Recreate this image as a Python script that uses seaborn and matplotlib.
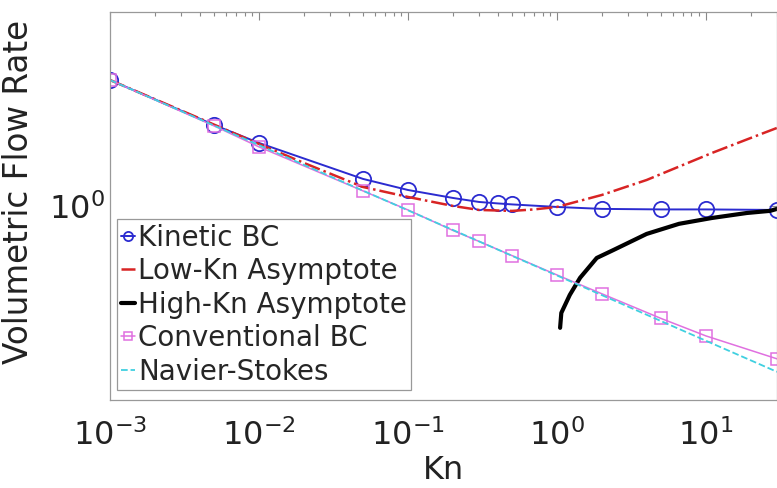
import numpy as np
import pandas as pd
import matplotlib
matplotlib.use("Agg")
import matplotlib.pyplot as plt
import matplotlib.ticker as mticker
import seaborn as sns

# values (log-log axes)
kn_kinetic = [1e-3, 5e-3, 1e-2, 5e-2, 0.1, 0.2, 0.3, 0.4, 0.5, 1, 2, 5, 10, 30]
q_kinetic = [2.065, 1.594, 1.437, 1.168, 1.096, 1.047, 1.023, 1.0145, 1.0087, 0.994, 0.983, 0.980, 0.980, 0.977]

kn_lowkn = [1e-3, 3e-3, 1e-2, 2e-2, 5e-2, 0.1, 0.2, 0.3, 0.5, 0.7, 1, 2, 4, 11, 20, 30]
q_lowkn = [2.065, 1.733, 1.429, 1.281, 1.115, 1.053, 1.0, 0.977, 0.9716, 0.980, 0.994, 1.065, 1.161, 1.357, 1.479, 1.567]

kn_highkn = [1.05, 1.07, 1.22, 1.43, 1.85, 2.4, 4.0, 6.6, 11, 18.8, 27, 30]
q_highkn = [0.4955, 0.540, 0.599, 0.661, 0.741, 0.776, 0.851, 0.902, 0.933, 0.960, 0.972, 0.983]

kn_conv = [1e-3, 5e-3, 1e-2, 5e-2, 0.1, 0.2, 0.3, 0.5, 1, 2, 5, 10, 30]
q_conv = [2.065, 1.585, 1.405, 1.090, 0.977, 0.8685, 0.815, 0.751, 0.672, 0.603, 0.523, 0.473, 0.4145]

kn_ns = [1e-3, 1e-2, 0.1, 1, 10, 30]
q_ns = [2.065, 1.419, 0.975, 0.670, 0.460, 0.3846]

sns.set_style("white")
plt.rcParams['font.family'] = ['DejaVu Sans']

fig = plt.figure(figsize=(7.77, 4.88), dpi=100)
ax = fig.add_axes([110/777, 1 - 400/488, 1 - 110/777, 388/488])

sns.lineplot(x=kn_kinetic, y=q_kinetic, ax=ax, color='#2b2bd0', lw=1.4,
             marker='o', markersize=11, markerfacecolor='none',
             markeredgecolor='#2b2bd0', markeredgewidth=1.3, label='Kinetic BC')
sns.lineplot(x=kn_lowkn, y=q_lowkn, ax=ax, color='#d82424', lw=1.8,
             linestyle='-.', label='Low-Kn Asymptote')
sns.lineplot(x=kn_highkn, y=q_highkn, ax=ax, color='black', lw=3,
             label='High-Kn Asymptote')
sns.lineplot(x=kn_conv, y=q_conv, ax=ax, color='#e070e0', lw=1.1,
             marker='s', markersize=9, markerfacecolor='none',
             markeredgecolor='#e070e0', markeredgewidth=1.1, label='Conventional BC')
sns.lineplot(x=kn_ns, y=q_ns, ax=ax, color='#40d0e0', lw=1.3,
             linestyle='--', label='Navier-Stokes')

ax.set_xscale('log')
ax.set_yscale('log')
ax.set_xlim(1e-3, 30)
ax.set_ylim(0.327, 3.055)
ax.set_yticks([1])
ax.yaxis.set_minor_locator(mticker.NullLocator())
ax.xaxis.set_major_locator(mticker.LogLocator(base=10, numticks=10))
ax.xaxis.set_minor_locator(mticker.LogLocator(base=10, subs=np.arange(2, 10), numticks=20))
ax.xaxis.set_minor_formatter(mticker.NullFormatter())

ax.tick_params(which='both', direction='in', top=True, right=True, colors='#888888',
               labelcolor='#222222', labelsize=23)
ax.tick_params(axis='x', which='major', pad=14)
ax.tick_params(which='major', length=6, width=0.8)
ax.tick_params(which='minor', length=3, width=0.8)
for s in ax.spines.values():
    s.set_color('#999999')
    s.set_linewidth(0.9)

ax.set_xlabel('Kn', fontsize=23, color='#222222', labelpad=2)
ax.set_ylabel('Volumetric Flow Rate', fontsize=23.5, color='#222222')
ax.yaxis.set_label_coords(-0.113, 0.536)

leg = ax.legend(loc='lower left', bbox_to_anchor=(0.0105, 0.026), fontsize=20,
                handlelength=0.5, handletextpad=0.1, labelspacing=0.2,
                borderpad=0.15, borderaxespad=0, fancybox=False, framealpha=1,
                markerscale=0.6)
leg.get_frame().set_edgecolor('#999999')
leg.get_frame().set_linewidth(0.9)

fig.savefig('out.png', dpi=100)
